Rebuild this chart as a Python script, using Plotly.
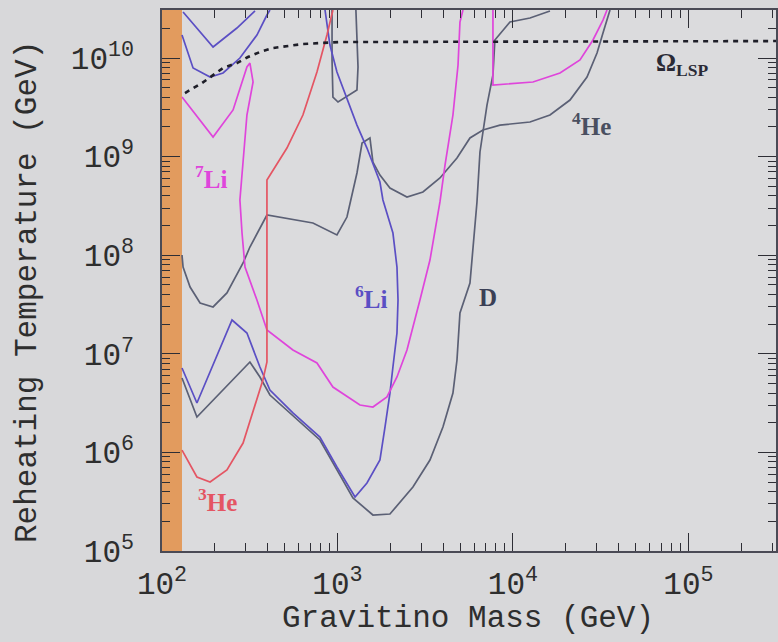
import numpy as np
import plotly.graph_objects as go

# ---- data (log10 of GeV) ----
omega_lsp_logm = [2.131, 2.228, 2.348, 2.427, 2.490, 2.558, 2.632, 2.712, 2.803, 2.900, 3.014, 5.499]
omega_lsp_logt = [9.645, 9.746, 9.899, 9.949, 10.010, 10.061, 10.101, 10.122, 10.142, 10.152, 10.162, 10.172]

li6_upper_a_logm = [2.120, 2.291, 2.427, 2.530]
li6_upper_a_logt = [10.467, 10.112, 10.304, 10.477]

li6_upper_b_logm = [2.114, 2.177, 2.274, 2.348, 2.444, 2.541, 2.598, 2.615]
li6_upper_b_logt = [10.233, 9.899, 9.807, 9.848, 10.000, 10.233, 10.436, 10.487]

li6_logm = [2.114, 2.199, 2.399, 2.484, 2.558, 2.615, 2.746, 2.900, 2.997, 3.100, 3.168, 3.242,
            3.271, 3.299, 3.316, 3.339, 3.345, 3.339, 3.316, 3.259, 3.242, 3.168, 3.111, 3.054,
            2.997, 2.957, 2.929]
li6_logt = [6.856, 6.501, 7.343, 7.211, 6.866, 6.633, 6.400, 6.156, 5.852, 5.548, 5.690, 5.923,
            6.258, 6.602, 6.866, 7.211, 7.546, 7.880, 8.225, 8.560, 8.742, 9.087, 9.320, 9.594,
            9.858, 10.132, 10.487]

d_logm = [2.114, 2.199, 2.501, 2.558, 2.615, 2.746, 2.900, 2.997, 3.088, 3.202, 3.299, 3.430,
          3.527, 3.601, 3.658, 3.681, 3.698, 3.755, 3.772, 3.795, 3.812, 3.852, 3.886, 3.897,
          3.983, 4.097, 4.211]
d_logt = [6.755, 6.359, 6.917, 6.765, 6.582, 6.369, 6.126, 5.822, 5.538, 5.365, 5.375, 5.649,
          5.923, 6.258, 6.602, 6.937, 7.414, 7.718, 8.053, 8.540, 9.047, 9.523, 9.828, 10.183,
          10.365, 10.406, 10.477]

he4_logm = [2.114, 2.120, 2.160, 2.217, 2.291, 2.370, 2.462, 2.501, 2.598, 2.860, 2.997, 3.054,
            3.111, 3.140, 3.185, 3.202, 3.242, 3.299, 3.396, 3.487, 3.584, 3.681, 3.755, 3.829,
            3.926, 4.097, 4.211, 4.325, 4.422, 4.479, 4.513, 4.553]
he4_logt = [8.002, 7.880, 7.677, 7.515, 7.475, 7.617, 7.921, 8.083, 8.408, 8.327, 8.205, 8.387,
            8.834, 9.138, 9.189, 8.945, 8.813, 8.682, 8.590, 8.641, 8.783, 8.986, 9.189, 9.270,
            9.320, 9.351, 9.422, 9.574, 9.807, 10.051, 10.254, 10.487]

he4_loop_logm = [2.969, 2.969, 2.974, 3.003, 3.111, 3.117, 3.105]
he4_loop_logt = [10.487, 9.980, 9.604, 9.554, 9.675, 9.909, 10.487]

li7_logm = [2.114, 2.291, 2.405, 2.484, 2.501, 2.519, 2.484, 2.462, 2.444, 2.456, 2.473, 2.541,
            2.598, 2.746, 2.883, 2.974, 3.128, 3.202, 3.282, 3.339, 3.396, 3.470, 3.527, 3.584,
            3.613, 3.658, 3.687, 3.698, 3.715]
li7_logt = [9.604, 9.199, 9.473, 9.909, 9.949, 9.757, 9.422, 8.966, 8.560, 8.225, 7.880, 7.546,
            7.241, 7.039, 6.907, 6.663, 6.481, 6.460, 6.562, 6.765, 7.039, 7.546, 7.951, 8.540,
            8.915, 9.422, 9.929, 10.365, 10.487]

li7_right_logm = [3.886, 3.886, 4.114, 4.268, 4.382, 4.456, 4.513, 4.536]
li7_right_logt = [10.487, 9.726, 9.757, 9.848, 9.980, 10.183, 10.385, 10.487]

he3_logm = [2.114, 2.199, 2.274, 2.370, 2.462, 2.519, 2.575, 2.598, 2.598, 2.712, 2.803, 2.883,
            2.940, 2.974]
he3_logt = [6.024, 5.751, 5.700, 5.822, 6.095, 6.430, 6.734, 6.917, 8.763, 9.087, 9.422, 9.858,
            10.233, 10.487]

band_mass = [100, 130]
x_tick_exps = [2, 3, 4, 5]
y_tick_exps = [5, 6, 7, 8, 9, 10]

GRAY = "#5b6075"
BLUE = "#5b4fc4"
MAG = "#df45db"
RED = "#e45563"
BG = "#d8d8da"

fig = go.Figure()

def add(lm, lt, color, width=1.7, dash=None):
    fig.add_trace(go.Scatter(
        x=10 ** np.array(lm), y=10 ** np.array(lt), mode="lines",
        line=dict(color=color, width=width, dash=dash), showlegend=False,
        hoverinfo="skip"))

add(he4_logm, he4_logt, GRAY)
add(he4_loop_logm, he4_loop_logt, GRAY)
add(d_logm, d_logt, GRAY)
add(li6_upper_a_logm, li6_upper_a_logt, BLUE)
add(li6_upper_b_logm, li6_upper_b_logt, BLUE)
add(li6_logm, li6_logt, BLUE)
add(li7_logm, li7_logt, MAG)
add(li7_right_logm, li7_right_logt, MAG)
add(he3_logm, he3_logt, RED)
add(omega_lsp_logm, omega_lsp_logt, "#1e1e28", width=2.6, dash="5px,5px")

fig.add_shape(type="rect", xref="x", yref="paper", x0=band_mass[0], x1=band_mass[1],
              y0=0, y1=1, fillcolor="#e29b5e", line=dict(width=0), layer="below")

tickfont = dict(family="Liberation Mono, Courier New, monospace", size=31, color="#2e2e2e")
titlefont = dict(family="Liberation Mono, Courier New, monospace", size=31, color="#2e2e2e")

axis_common = dict(
    type="log", showgrid=False, zeroline=False, showline=True, linecolor="#4a4a55",
    linewidth=1.5, mirror="ticks", ticks="inside", ticklen=18, tickwidth=1.3,
    tickcolor="#2e2e35", exponentformat="power", tickfont=tickfont, automargin=False,
    minor=dict(ticks="inside", ticklen=8, tickwidth=1.2, tickcolor="#2e2e35", dtick="D1"),
)

fig.update_xaxes(range=[2, 5.499], tickvals=[10 ** e for e in x_tick_exps],
                 ticktext=[f"10<sup>{e}</sup>" for e in x_tick_exps],
                 ticklabelstandoff=4, **axis_common)
fig.update_yaxes(range=[5, 10.487], tickvals=[10 ** e for e in y_tick_exps],
                 ticktext=[f"10<sup>{e}</sup>" for e in y_tick_exps],
                 ticklabelstandoff=20, **axis_common)

# axis titles
fig.add_annotation(text="Gravitino Mass (GeV)", xref="paper", yref="paper", x=0.498, y=-0.125,
                   xanchor="center", yanchor="middle", showarrow=False, font=titlefont)
fig.add_annotation(text="Reheating Temperature (GeV)", xref="paper", yref="paper", x=-0.218,
                   y=0.479, xanchor="center", yanchor="middle", textangle=-90, showarrow=False,
                   font=titlefont)

lab = dict(family="Liberation Serif, Times New Roman, serif", size=25)
ann = [
    ("<sup>7</sup>Li", 2.279, 8.793, MAG),
    ("<sup>3</sup>He", 2.319, 5.517, RED),
    ("<sup>6</sup>Li", 3.191, 7.576, BLUE),
    ("D", 3.858, 7.576, "#3a3f55"),
    ("<sup>4</sup>He", 4.450, 9.331, "#4a4f60"),
    ("Ω<sub>LSP</sub>", 4.963, 9.939, "#2a2a35"),
]
for text, ax_, ay_, c in ann:
    fig.add_annotation(x=ax_, y=ay_, xref="x", yref="y", text=f"<b>{text}</b>", showarrow=False,
                       font=dict(color=c, **lab))

fig.update_layout(
    width=778, height=642,
    margin=dict(l=162, r=2, t=10, b=91),
    paper_bgcolor=BG, plot_bgcolor="#dbdbdd",
)

fig.write_html(
    "out.html",
    config={"displayModeBar": False},
    post_script=(
        "document.body.style.margin='0';"
        "document.body.style.background='" + BG + "';"
        "document.documentElement.style.overflow='hidden';"
    ),
)
